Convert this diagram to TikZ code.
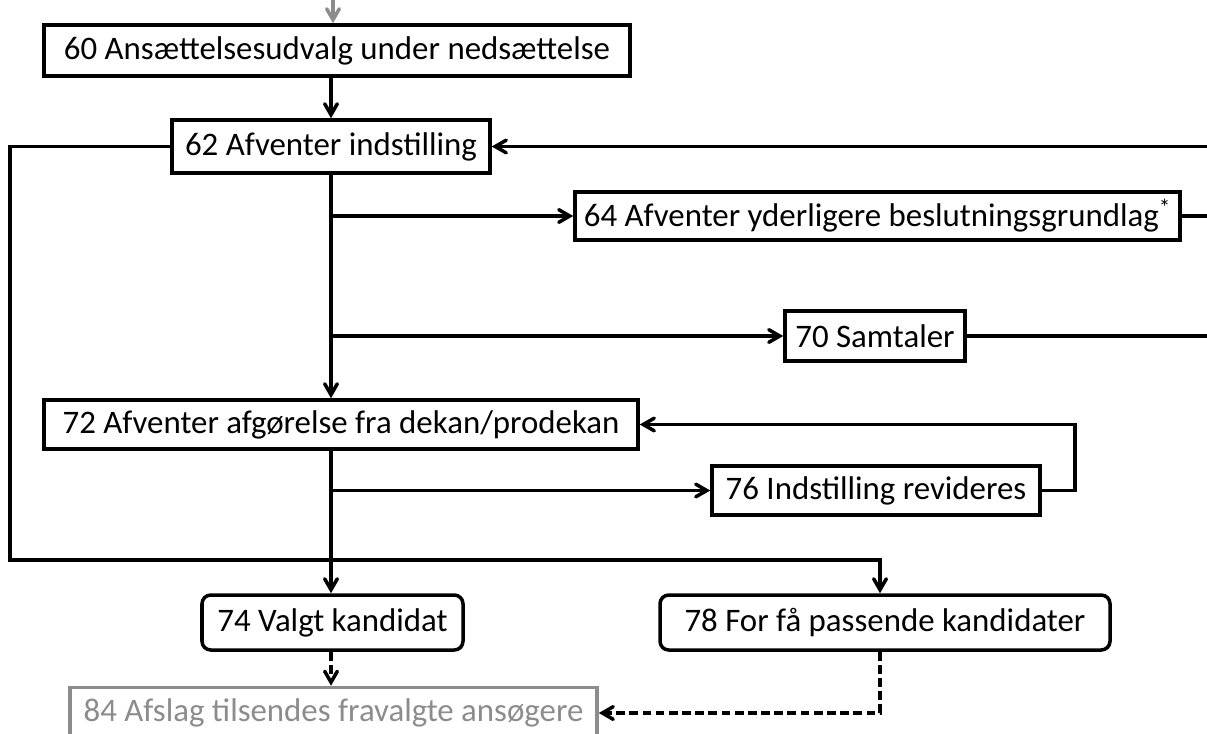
\documentclass[tikz,border=0pt]{standalone}
\usepackage{fontspec}
\setmainfont{Carlito}
\usetikzlibrary{arrows}
\tikzset{
->, % directed connectors
>=angle 60, % open arrow heads
every node/.style={font=\fontsize{18.7}{22}\selectfont},
box/.style={draw, rectangle, inner sep=0pt},
rbox/.style={box, rounded corners=5pt},
fade/.style={draw=black!45, text=black!45},
}
\begin{document}
\begin{tikzpicture}[line width=2pt]
    \useasboundingbox (0,0) rectangle (24.14,-14.66);
    \node[box, minimum width=11.72cm, minimum height=1.02cm] (n60) at (6.74,-1.01) {60 Ansættelsesudvalg under nedsættelse};
    \node[box, minimum width=6.36cm, minimum height=1.06cm] (n62) at (6.62,-2.93) {62 Afventer indstilling};
    \node[box, minimum width=12.10cm, minimum height=0.96cm] (n64) at (17.55,-4.32) {64 Afventer yderligere beslutningsgrundlag\textsuperscript{*}};
    \node[box, minimum width=3.60cm, minimum height=1.00cm] (n70) at (17.50,-6.72) {70 Samtaler};
    \node[box, minimum width=11.88cm, minimum height=0.98cm] (n72) at (6.82,-8.49) {72 Afventer afgørelse fra dekan/prodekan};
    \node[box, minimum width=6.56cm, minimum height=0.98cm] (n76) at (17.52,-9.81) {76 Indstilling revideres};
    \node[rbox, minimum width=5.22cm, minimum height=1.10cm] (n74) at (6.65,-12.45) {74 Valgt kandidat};
    \node[rbox, minimum width=9.00cm, minimum height=1.10cm] (n78) at (17.70,-12.45) {78 For få passende kandidater};
    \node[box, fade, minimum width=10.54cm, minimum height=1.02cm] (n84) at (6.67,-14.26) {84 Afslag tilsendes fravalgte ansøgere};
    \coordinate (top) at (6.66,0.1);
    \coordinate (trunk) at (6.62,0);
    \coordinate (edge) at (24.4,0);
    \coordinate (loopL) at (0.2,-11.2);
    \coordinate (loopR) at (17.6,-11.2);
    \draw[fade] (top) -- (top |- n60.north);
    \draw (trunk |- n60.south) -- (trunk |- n62.north);
    \draw (n62.south) -- (trunk |- n72.north);
    \draw (trunk |- n64.west) -- (n64.west);
    \draw (trunk |- n70.west) -- (n70.west);
    \draw (edge |- n62.east) -- (n62.east);
    \draw[-] (n64.east) -- (edge |- n64.east);
    \draw[-] (n70.east) -- (edge |- n70.east);
    \draw (trunk |- n72.south) -- (trunk |- n74.north);
    \draw (trunk |- n76.west) -- (n76.west);
    \draw (n76.east) -- ++(0.66,0) |- (n72.east);
    \draw (n62.west) -| (loopL) -- (loopR) -- (loopR |- n78.north);
    \draw[dash pattern=on 5pt off 2.5pt] (trunk |- n74.south) -- (trunk |- n84.north);
    \draw[dash pattern=on 5pt off 2.5pt] (loopR |- n78.south) |- (n84.east);
\end{tikzpicture}
\end{document}
